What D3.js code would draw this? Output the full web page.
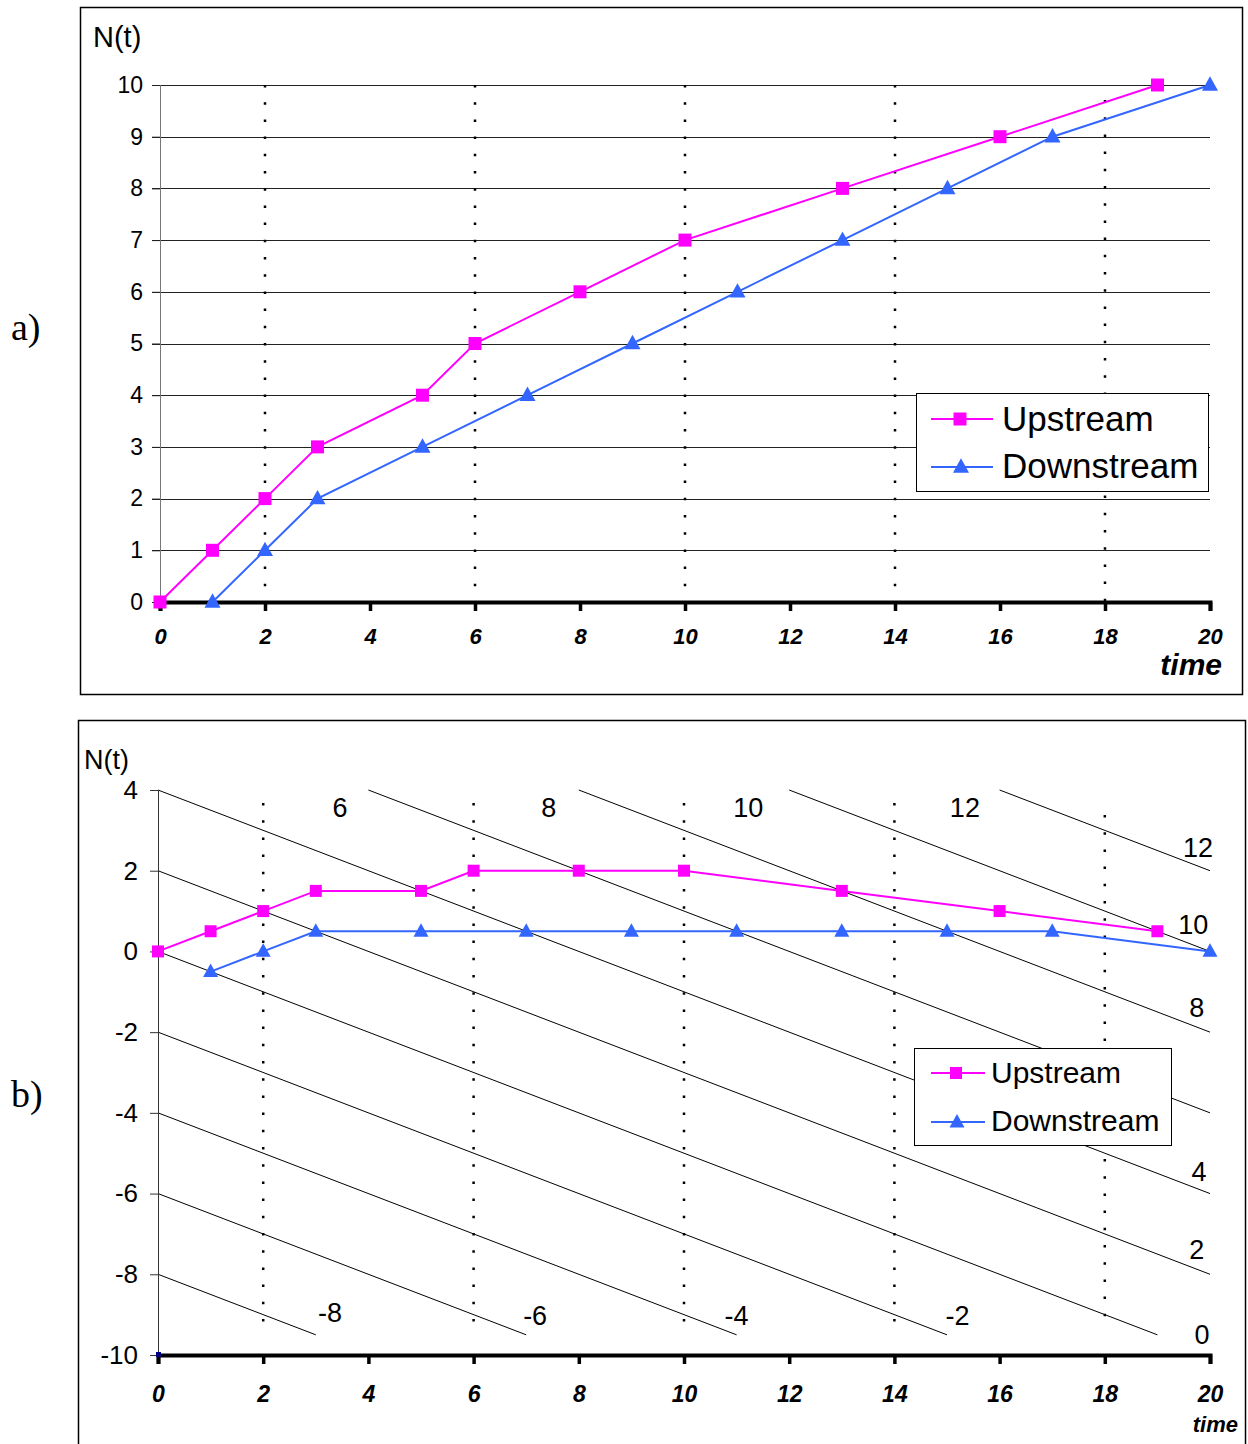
<!DOCTYPE html>
<html>
<head>
<meta charset="utf-8">
<script src="https://cdn.jsdelivr.net/npm/d3@7"></script>
<style>
  html, body { margin: 0; padding: 0; background: #fff; }
  svg { display: block; }
</style>
</head>
<body>
<svg id="chart" width="1248" height="1444" font-family="Liberation Sans, Arial, sans-serif"></svg>
<script>
// ---------------- DATA ----------------
const seriesNames = ["Upstream", "Downstream"];
const xTicks = [0, 2, 4, 6, 8, 10, 12, 14, 16, 18, 20];
const dottedTimes = [2, 6, 10, 14, 18];

// Chart a) cumulative counts N(t)
const upstreamT = [0, 1, 2, 3, 5, 6, 8, 10, 13, 16, 19];
const upstreamN = [0, 1, 2, 3, 4, 5, 6, 7, 8, 9, 10];
const downstreamT = [1, 2, 3, 5, 7, 9, 11, 13, 15, 17, 20];
const downstreamN = [0, 1, 2, 3, 4, 5, 6, 7, 8, 9, 10];
const yTicksA = [0, 1, 2, 3, 4, 5, 6, 7, 8, 9, 10];

// Chart b) reduced (oblique) counts
const upstreamReduced = [0, 0.5, 1, 1.5, 1.5, 2, 2, 2, 1.5, 1, 0.5];
const downstreamReduced = [-0.5, 0, 0.5, 0.5, 0.5, 0.5, 0.5, 0.5, 0.5, 0.5, 0];
const yTicksB = [4, 2, 0, -2, -4, -6, -8, -10];
// iso-count lines N = c, drawn as y = c - t/2
const isoValues = [-8, -6, -4, -2, 0, 2, 4, 6, 8, 10, 12];
const isoYMin = -9.5, isoYMax = 4;
// iso-line labels (text, t, y)
const isoLabelText = ["6", "8", "10", "12", "12", "10", "8", "4", "2", "0", "-8", "-6", "-4", "-2"];
const isoLabelT = [3.46, 7.43, 11.22, 15.34, 19.77, 19.68, 19.75, 19.79, 19.75, 19.85, 3.27, 7.17, 11.0, 15.2];
const isoLabelY = [3.55, 3.55, 3.55, 3.55, 2.56, 0.66, -1.40, -5.46, -7.40, -9.50, -8.96, -9.03, -9.03, -9.03];

// ---------------- STYLE ----------------
const magenta = "#ff00ff";
const blue = "#3366ff";
const SANS = "Liberation Sans, Arial, sans-serif";
const SERIF = "Liberation Serif, Times New Roman, serif";

const svg = d3.select("#chart");

function square(g, cx, cy, s, color) {
  g.append("rect").attr("x", cx - s / 2).attr("y", cy - s / 2)
    .attr("width", s).attr("height", s).attr("fill", color);
}
function triangle(g, cx, cy, s, color) {
  const h = s * 0.9;
  g.append("path")
    .attr("d", `M${cx},${cy - h * 0.6}L${cx + s / 2},${cy + h * 0.4}L${cx - s / 2},${cy + h * 0.4}Z`)
    .attr("fill", color);
}

// ================= CHART A =================
(function () {
  const g = svg.append("g");
  g.append("rect").attr("x", 80.5).attr("y", 7.5).attr("width", 1162).attr("height", 687)
    .attr("fill", "none").attr("stroke", "#000").attr("stroke-width", 1.5);

  const x = d3.scaleLinear().domain([0, 20]).range([160, 1210]);
  const y = d3.scaleLinear().domain([0, 10]).range([602, 85]);

  // horizontal grid
  g.selectAll(".grid").data(yTicksA.filter(d => d > 0)).join("line")
    .attr("x1", 152).attr("x2", x(20))
    .attr("y1", d => Math.round(y(d)) + 0.5).attr("y2", d => Math.round(y(d)) + 0.5)
    .attr("stroke", "#222").attr("stroke-width", 1);

  // y axis
  const yAxis = d3.axisLeft(y).tickValues(yTicksA).tickSize(8).tickPadding(9);
  const ya = g.append("g").attr("transform", `translate(${x(0)},0)`).call(yAxis);
  ya.select(".domain").attr("stroke", "#777");
  ya.selectAll(".tick line").attr("stroke", "#222");
  ya.selectAll("text").style("font-size", "23px").style("font-family", SANS).attr("fill", "#000");

  // dotted verticals
  g.selectAll(".dot").data(dottedTimes).join("line")
    .attr("x1", d => x(d)).attr("x2", d => x(d))
    .attr("y1", d => d === 18 ? 100 : y(10)).attr("y2", y(0))
    .attr("stroke", "#000").attr("stroke-width", 2.5)
    .attr("stroke-dasharray", "2.5,14.7");

  // x axis
  const xAxis = d3.axisBottom(x).tickValues(xTicks).tickSize(9).tickPadding(17);
  const xa = g.append("g").attr("transform", `translate(0,${y(0)})`).call(xAxis);
  xa.select(".domain").attr("stroke", "#000").attr("stroke-width", 4);
  xa.selectAll(".tick line").attr("stroke", "#000").attr("stroke-width", 3.5);
  xa.selectAll("text").style("font-size", "22px").style("font-weight", "bold").style("font-style", "italic")
    .style("font-family", SANS).attr("fill", "#000");

  g.append("text").attr("x", 1222).attr("y", 675).attr("text-anchor", "end")
    .attr("font-size", 30).attr("font-weight", "bold").attr("font-style", "italic").text("time");
  g.append("text").attr("x", 93).attr("y", 47).attr("font-size", 29).text("N(t)");

  // series
  const line = d3.line().x(d => x(d[0])).y(d => y(d[1]));
  const up = upstreamT.map((t, i) => [t, upstreamN[i]]);
  const dn = downstreamT.map((t, i) => [t, downstreamN[i]]);
  g.append("path").attr("d", line(up)).attr("fill", "none").attr("stroke", magenta).attr("stroke-width", 2);
  g.append("path").attr("d", line(dn)).attr("fill", "none").attr("stroke", blue).attr("stroke-width", 2);
  up.forEach(d => square(g, x(d[0]), y(d[1]), 13, magenta));
  dn.forEach(d => triangle(g, x(d[0]), y(d[1]), 16, blue));

  // legend
  const L = g.append("g");
  L.append("rect").attr("x", 916.5).attr("y", 393.5).attr("width", 292).attr("height", 98)
    .attr("fill", "#fff").attr("stroke", "#000").attr("stroke-width", 1);
  L.append("line").attr("x1", 931).attr("x2", 993).attr("y1", 419).attr("y2", 419).attr("stroke", magenta).attr("stroke-width", 2);
  square(L, 960, 419, 13, magenta);
  L.append("line").attr("x1", 931).attr("x2", 993).attr("y1", 467).attr("y2", 467).attr("stroke", blue).attr("stroke-width", 2);
  triangle(L, 961, 467, 16, blue);
  L.append("text").attr("x", 1002).attr("y", 431).attr("font-size", 35).text(seriesNames[0]);
  L.append("text").attr("x", 1002).attr("y", 478).attr("font-size", 35).text(seriesNames[1]);

  svg.append("text").attr("x", 11).attr("y", 340).style("font-size", "38px")
    .style("font-family", SERIF).text("a)");
})();

// ================= CHART B =================
(function () {
  const g = svg.append("g");
  g.append("rect").attr("x", 78.5).attr("y", 720.5).attr("width", 1167).attr("height", 760)
    .attr("fill", "none").attr("stroke", "#000").attr("stroke-width", 1.5);

  const x = d3.scaleLinear().domain([0, 20]).range([158, 1210]);
  const y = d3.scaleLinear().domain([-10, 4]).range([1355, 790]);

  // iso lines
  const iso = isoValues.map(c => {
    const t0 = Math.max(0, 2 * (c - isoYMax));
    const t1 = Math.min(20, 2 * (c - isoYMin));
    return { c, t0, t1 };
  });
  g.selectAll(".iso").data(iso).join("line")
    .attr("x1", d => x(d.t0)).attr("y1", d => y(d.c - d.t0 / 2))
    .attr("x2", d => x(d.t1)).attr("y2", d => y(d.c - d.t1 / 2))
    .attr("stroke", "#000").attr("stroke-width", 1);

  // dotted verticals
  g.selectAll(".dot").data(dottedTimes).join("line")
    .attr("x1", d => x(d)).attr("x2", d => x(d))
    .attr("y1", d => d === 18 ? 815 : 803).attr("y2", 1330)
    .attr("stroke", "#000").attr("stroke-width", 2.5)
    .attr("stroke-dasharray", "2.5,14.7");

  // y axis
  const yAxis = d3.axisLeft(y).tickValues(yTicksB).tickSize(8).tickPadding(12)
    .tickFormat(d => d < 0 ? "-" + Math.abs(d) : d);
  const ya = g.append("g").attr("transform", `translate(${x(0)},0)`).call(yAxis);
  ya.select(".domain").attr("stroke", "#333");
  ya.selectAll(".tick line").attr("stroke", "#333");
  ya.selectAll("text").style("font-size", "26px").style("font-family", SANS).attr("fill", "#000");

  // x axis
  const xAxis = d3.axisBottom(x).tickValues(xTicks).tickSize(9).tickPadding(22);
  const xa = g.append("g").attr("transform", `translate(0,${y(-10)})`).call(xAxis);
  xa.select(".domain").attr("stroke", "#000").attr("stroke-width", 4);
  xa.selectAll(".tick line").attr("stroke", "#000").attr("stroke-width", 3.5);
  xa.selectAll("text").style("font-size", "23px").style("font-weight", "bold").style("font-style", "italic")
    .style("font-family", SANS).attr("fill", "#000");

  g.append("text").attr("x", 1238).attr("y", 1432).attr("text-anchor", "end")
    .attr("font-size", 22).attr("font-weight", "bold").attr("font-style", "italic").text("time");
  g.append("text").attr("x", 84).attr("y", 769).attr("font-size", 27).text("N(t)");

  // iso labels
  g.selectAll(".isolab").data(isoLabelText).join("text")
    .attr("x", (d, i) => x(isoLabelT[i])).attr("y", (d, i) => y(isoLabelY[i]))
    .attr("text-anchor", "middle").attr("dominant-baseline", "central")
    .attr("font-size", 27).text(d => d);

  // series
  const line = d3.line().x(d => x(d[0])).y(d => y(d[1]));
  const up = upstreamT.map((t, i) => [t, upstreamReduced[i]]);
  const dn = downstreamT.map((t, i) => [t, downstreamReduced[i]]);
  g.append("path").attr("d", line(up)).attr("fill", "none").attr("stroke", magenta).attr("stroke-width", 2);
  g.append("path").attr("d", line(dn)).attr("fill", "none").attr("stroke", blue).attr("stroke-width", 2);
  up.forEach(d => square(g, x(d[0]), y(d[1]), 12, magenta));
  dn.forEach(d => triangle(g, x(d[0]), y(d[1]), 15, blue));
  g.append("rect").attr("x", x(0) - 2).attr("y", y(-10) - 3).attr("width", 5).attr("height", 5).attr("fill", "#000080");

  // legend
  const L = g.append("g");
  L.append("rect").attr("x", 914.5).attr("y", 1048.5).attr("width", 257).attr("height", 97)
    .attr("fill", "#fff").attr("stroke", "#000").attr("stroke-width", 1);
  L.append("line").attr("x1", 931).attr("x2", 985).attr("y1", 1073).attr("y2", 1073).attr("stroke", magenta).attr("stroke-width", 2);
  square(L, 956, 1073, 12, magenta);
  L.append("line").attr("x1", 931).attr("x2", 985).attr("y1", 1122).attr("y2", 1122).attr("stroke", blue).attr("stroke-width", 2);
  triangle(L, 957, 1122, 15, blue);
  L.append("text").attr("x", 991).attr("y", 1083).attr("font-size", 30).text(seriesNames[0]);
  L.append("text").attr("x", 991).attr("y", 1131).attr("font-size", 30).text(seriesNames[1]);

  svg.append("text").attr("x", 11).attr("y", 1107).style("font-size", "38px")
    .style("font-family", SERIF).text("b)");
})();
</script>
</body>
</html>
